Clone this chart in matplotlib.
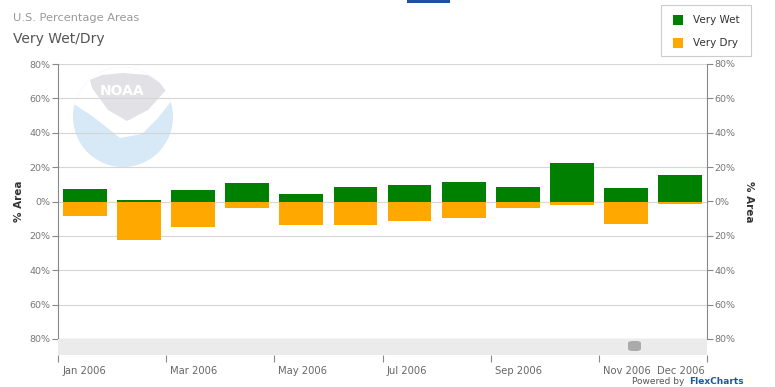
import numpy as np
import matplotlib.pyplot as plt
import matplotlib.transforms as mtrans
from matplotlib.patches import Rectangle, Circle, Polygon, FancyBboxPatch

# data (% area, Jan..Dec 2006)
months = ["Jan", "Feb", "Mar", "Apr", "May", "Jun", "Jul", "Aug", "Sep", "Oct", "Nov", "Dec"]
very_wet = [7.3, 1.0, 6.7, 10.8, 4.6, 8.5, 9.6, 11.4, 8.5, 22.3, 7.9, 15.4]
very_dry = [8.6, 22.5, 15.0, 4.0, 13.8, 13.8, 11.5, 9.8, 3.5, 2.3, 13.3, 1.7]
series_names = ["Very Wet", "Very Dry"]
colors = ["#008000", "#ffa800"]
tick_pos = [0, 2, 4, 6, 8, 10, 12]
tick_labels = ["Jan 2006", "Mar 2006", "May 2006", "Jul 2006", "Sep 2006", "Nov 2006", "Dec 2006"]
y_ticks = [-80, -60, -40, -20, 0, 20, 40, 60, 80]

W, H = 775, 387
fig = plt.figure(figsize=(W / 100, H / 100), dpi=100)
fig.patch.set_facecolor("white")


def fx(x):
    return x / W


def fy(y):
    return 1 - y / H


# main plot area (pixels 58..707 x 64..339)
ax = fig.add_axes([fx(58), fy(339), fx(707) - fx(58), fy(64) - fy(339)])
x = np.arange(len(months)) + 0.5
ax.bar(x, very_wet, width=0.81, color=colors[0], zorder=3)
ax.bar(x, [-v for v in very_dry], width=0.81, color=colors[1], zorder=3)
ax.set_xlim(0, 12)
ax.set_ylim(-80, 80)
ax.set_yticks(y_ticks)
ax.set_yticklabels([f"{abs(t)}%" for t in y_ticks])
ax.yaxis.grid(True, color="#d6d6d6", linewidth=0.8, zorder=1)
ax.set_xticks([])
for s in ["top", "right"]:
    ax.spines[s].set_visible(False)
ax.spines["left"].set_color("#888888")
ax.spines["bottom"].set_color("#888888")
ax.tick_params(axis="y", length=4, color="#888888", labelsize=6.8, labelcolor="#777777", pad=1.5)
ax.set_ylabel("% Area", fontsize=7.5, fontweight="bold", color="#333333", labelpad=4)

ax2 = ax.twinx()
ax2.set_ylim(-80, 80)
ax2.set_yticks(y_ticks)
ax2.set_yticklabels([f"{abs(t)}%" for t in y_ticks])
for s in ["top", "left", "bottom"]:
    ax2.spines[s].set_visible(False)
ax2.spines["right"].set_color("#888888")
ax2.tick_params(axis="y", length=4, color="#888888", labelsize=6.8, labelcolor="#777777", pad=1.5)
ax2.set_ylabel("% Area", fontsize=7.5, fontweight="bold", color="#333333", rotation=270, labelpad=13)

# NOAA watermark behind the grid
cx, cy, r = 123, 117, 50
logo_ax = fig.add_axes([0, 0, 1, 1], zorder=-1)
logo_ax.set_xlim(0, W)
logo_ax.set_ylim(H, 0)
logo_ax.axis("off")
circ = Circle((cx, cy), r, color="#d7e8f6", lw=0)
logo_ax.add_patch(circ)
gull = Polygon([(68, 100), (92, 116), (110, 130), (120, 138), (142, 134), (158, 118), (180, 90),
                (180, 60), (68, 60)], closed=True, color="white", lw=0)
logo_ax.add_patch(gull)
gull.set_clip_path(circ)
cap = Polygon([(90, 80), (102, 75), (123, 73), (148, 75), (168, 88), (148, 110), (127, 121),
               (108, 110), (92, 88)], closed=True, color="#e2e2e6", lw=0)
logo_ax.add_patch(cap)
cap.set_clip_path(circ)
logo_ax.text(122, 91, "NOAA", color="white", fontsize=10, fontweight="bold", ha="center", va="center")
ax.patch.set_alpha(0)
ax2.patch.set_alpha(0)

# scroll band with date axis
band = fig.add_axes([fx(58), fy(355), fx(707) - fx(58), fy(339) - fy(355)])
band.set_facecolor("#ebebeb")
band.set_xlim(0, 12)
band.set_ylim(0, 1)
band.set_yticks([])
for s in band.spines.values():
    s.set_visible(False)
band.set_xticks(tick_pos)
band.set_xticklabels(tick_labels)
band.tick_params(axis="x", length=5, color="#888888", labelsize=7.2, labelcolor="#666666", pad=3)
labels = band.get_xticklabels()
for lab in labels[:-1]:
    lab.set_ha("left")
    lab.set_transform(lab.get_transform() + mtrans.ScaledTranslation(4 / 100, 0, fig.dpi_scale_trans))
labels[-1].set_ha("right")
labels[-1].set_transform(labels[-1].get_transform() + mtrans.ScaledTranslation(-2 / 100, 0, fig.dpi_scale_trans))
thumb = FancyBboxPatch((fx(628), fy(351)), fx(641) - fx(628), fy(341) - fy(351),
                       boxstyle="round,pad=0,rounding_size=0.006", transform=fig.transFigure,
                       color="#aaaaaa", lw=0)
fig.patches.append(thumb)

# titles
fig.text(fx(13), fy(18), "U.S. Percentage Areas", fontsize=8.2, color="#999999", va="center")
fig.text(fx(13), fy(39), "Very Wet/Dry", fontsize=10, color="#555555", va="center")

# legend box
fig.patches.append(Rectangle((fx(661), fy(56)), fx(751) - fx(661), fy(5) - fy(56),
                             transform=fig.transFigure, facecolor="white", edgecolor="#cccccc", lw=0.8))
for i, (name, c) in enumerate(zip(series_names, colors)):
    yc = 20 + i * 23
    fig.patches.append(Rectangle((fx(673), fy(yc + 5)), fx(10), fy(0) - fy(10),
                                 transform=fig.transFigure, color=c, lw=0))
    fig.text(fx(693), fy(yc), name, fontsize=7.5, color="#333333", va="center")

# top tab marker and footer
fig.patches.append(Rectangle((fx(407), fy(3)), fx(43), fy(0) - fy(3), transform=fig.transFigure,
                             color="#1f4fa0", lw=0))
fig.text(fx(632), fy(386), "Powered by", fontsize=6.5, color="#555555", va="bottom")
fig.text(fx(689), fy(386), "FlexCharts", fontsize=6.5, color="#1a5a9a", va="bottom", fontweight="bold")

fig.savefig("out.png", dpi=100)
